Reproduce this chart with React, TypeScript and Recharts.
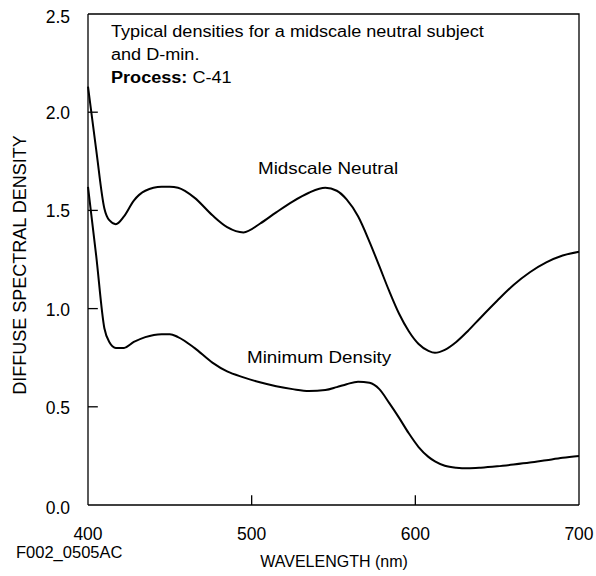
import { LineChart, Line, XAxis, YAxis } from 'recharts'

const wavelengths = [
  400, 405, 410, 413, 417, 422, 428, 435, 445, 450, 455, 465, 476, 485, 495, 505, 515, 525, 535,
  545, 552, 558, 565, 572, 578, 584, 590, 596, 602, 608, 612, 618, 625, 632, 640, 650, 660, 670,
  680, 690, 700,
]

const midscaleNeutral = [
  2.13, 1.81, 1.51, 1.45, 1.43, 1.47, 1.55, 1.6, 1.62, 1.62, 1.615, 1.565, 1.475, 1.415, 1.388,
  1.432, 1.49, 1.545, 1.59, 1.615, 1.6, 1.556, 1.47, 1.34, 1.216, 1.09, 0.975, 0.885, 0.82, 0.785,
  0.775, 0.79, 0.83, 0.885, 0.955, 1.04, 1.12, 1.185, 1.235, 1.27, 1.29,
]

const minimumDensity = [
  1.62, 1.27, 0.9, 0.83, 0.8, 0.8, 0.83, 0.855, 0.87, 0.87, 0.855, 0.8, 0.725, 0.68, 0.65, 0.625,
  0.605, 0.59, 0.58, 0.585, 0.6, 0.615, 0.628, 0.622, 0.59, 0.52, 0.445, 0.365, 0.295, 0.245,
  0.222, 0.2, 0.19, 0.187, 0.19, 0.197, 0.206, 0.216, 0.228, 0.24, 0.25,
]

const xTicks = [400, 500, 600, 700]
const yTicks = [0, 0.5, 1, 1.5, 2, 2.5]

// inward tick marks, length in data units (about 10px)
const xInner = [500, 600]
const yInner = [0.5, 1, 1.5, 2]
const xTickLen = 0.05
const yTickLen = 6

const data = wavelengths.map((w, i) => ({
  wavelength: w,
  midscale: midscaleNeutral[i],
  dmin: minimumDensity[i],
}))

// top and right edges of the frame
const frame = [
  { wavelength: 400, v: 2.5 },
  { wavelength: 700, v: 2.5 },
  { wavelength: 700, v: 0 },
]

const tickSegs = [
  ...xInner.map((t) => [
    { wavelength: t, v: 0 },
    { wavelength: t, v: xTickLen },
  ]),
  ...yInner.map((t) => [
    { wavelength: 400, v: t },
    { wavelength: 400 + yTickLen, v: t },
  ]),
]

const FONT = '"Liberation Sans", Arial, Helvetica, sans-serif'

function YTick(props: any) {
  const { x, y, payload } = props
  const v = payload.value
  const edge = v === 0 || v === 2.5
  return (
    <text x={x} y={Number(y) + (edge ? 3 : 1)} textAnchor="end" dominantBaseline="central" fontSize={17.5} fill="#000" fontFamily={FONT}>
      {v.toFixed(1)}
    </text>
  )
}

function XTick(props: any) {
  const { x, y, payload } = props
  return (
    <text x={x} y={y} textAnchor="middle" dominantBaseline="central" fontSize={17.5} fill="#000" fontFamily={FONT}>
      {payload.value}
    </text>
  )
}

const txt = (extra: any) => ({
  position: 'absolute' as const,
  fontFamily: FONT,
  fontSize: 16,
  color: '#000',
  whiteSpace: 'nowrap' as const,
  transformOrigin: 'left center',
  ...extra,
})

export default function App() {
  return (
    <div style={{ position: 'absolute', left: 0, top: 0, width: 596, height: 576, background: '#fff' }}>
      <LineChart width={596} height={576} data={data} margin={{ top: 14, right: 17, left: 0, bottom: 0 }}>
        <XAxis
          dataKey="wavelength"
          type="number"
          domain={[400, 700]}
          ticks={xTicks}
          height={71}
          axisLine={{ stroke: '#000', strokeWidth: 1.3 }}
          tickLine={false}
          tickSize={0}
          tickMargin={29}
          tick={<XTick />}
        />
        <YAxis
          type="number"
          domain={[0, 2.5]}
          ticks={yTicks}
          width={88}
          axisLine={{ stroke: '#000', strokeWidth: 1.3 }}
          tickLine={false}
          tickSize={0}
          tickMargin={18}
          tick={<YTick />}
        />
        <Line data={frame} dataKey="v" type="linear" stroke="#000" strokeWidth={1.3} dot={false} isAnimationActive={false} />
        {tickSegs.map((seg, i) => (
          <Line
            key={'tick' + i}
            data={seg}
            dataKey="v"
            type="linear"
            stroke="#000"
            strokeWidth={1.3}
            dot={false}
            isAnimationActive={false}
          />
        ))}
        <Line dataKey="midscale" type="monotone" stroke="#000" strokeWidth={2} dot={false} isAnimationActive={false} />
        <Line dataKey="dmin" type="monotone" stroke="#000" strokeWidth={2} dot={false} isAnimationActive={false} />
      </LineChart>

      <div style={txt({ left: 111, top: 20, lineHeight: '23px', transform: 'scaleX(1.13)', transformOrigin: 'left top' })}>
        Typical densities for a midscale neutral subject
        <br />
        and D-min.
        <br />
        <b>Process:</b> C-41
      </div>
      <div style={txt({ left: 258, top: 168, fontSize: 16.5, transform: 'translateY(-50%) scaleX(1.14)' })}>
        Midscale Neutral
      </div>
      <div style={txt({ left: 247, top: 357, fontSize: 16.5, transform: 'translateY(-50%) scaleX(1.14)' })}>
        Minimum Density
      </div>
      <div style={txt({ left: 16, top: 552, transform: 'translateY(-50%)', fontSize: 16.5 })}>F002_0505AC</div>
      <div style={txt({ left: 334, top: 562, transform: 'translate(-50%, -50%)', transformOrigin: 'center' })}>
        WAVELENGTH (nm)
      </div>
      <div
        style={txt({
          left: 20,
          top: 265,
          fontSize: 18,
          transform: 'translate(-50%, -50%) rotate(-90deg)',
          transformOrigin: 'center',
        })}
      >
        DIFFUSE SPECTRAL DENSITY
      </div>
    </div>
  )
}
